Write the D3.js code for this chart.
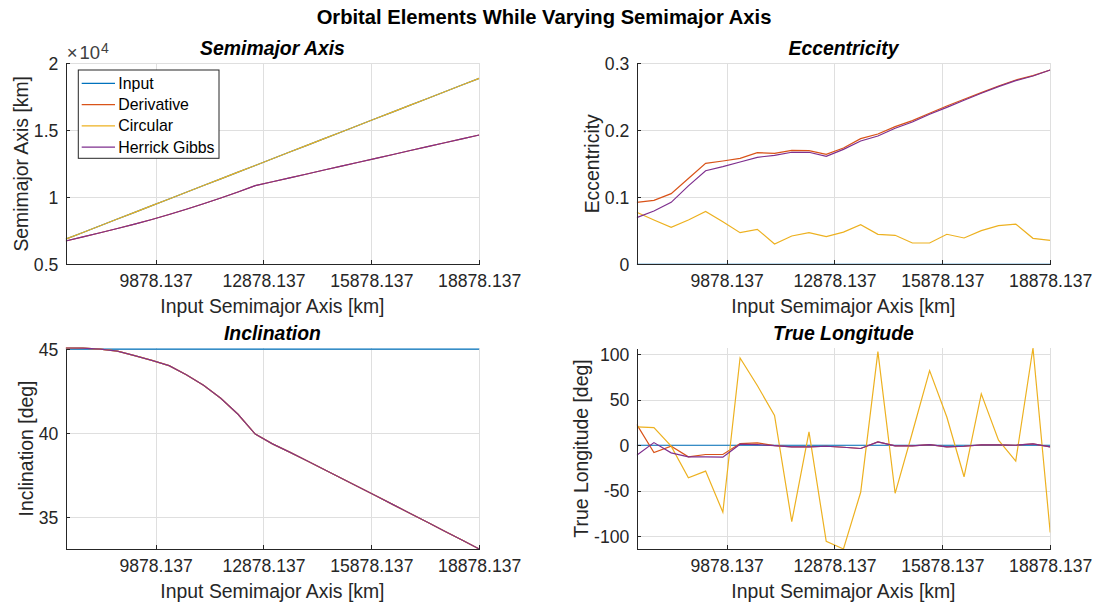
<!DOCTYPE html>
<html lang="en">
<head>
<meta charset="UTF-8">
<title>Orbital Elements While Varying Semimajor Axis</title>
<script src="https://d3js.org/d3.v7.min.js"></script>
<style>
body { margin: 0; background: #fff; }
svg { font-family: "Liberation Sans", Arial, sans-serif; }
.tick text { fill: #262626; font-size: 17.6px; }
.axis path, .axis line { stroke: #262626; shape-rendering: crispEdges; }
.grid line { stroke: #dfdfdf; shape-rendering: crispEdges; }
.grid path { stroke: none; }
.grid text { display: none; }
</style>
</head>
<body>
<script>
// input semimajor axis (x positions of the samples)
var inputA = [7378.137, 7857.304, 8336.470, 8815.637, 9294.804, 9773.970, 10253.137,
  10732.304, 11211.470, 11690.637, 12169.804, 12648.970, 13128.137, 13607.304,
  14086.470, 14565.637, 15044.804, 15523.970, 16003.137, 16482.304, 16961.470,
  17440.637, 17919.804, 18398.970, 18878.137];
var xTicks = [9878.137, 12878.137, 15878.137, 18878.137];

var seriesNames = ["Input", "Derivative", "Circular", "Herrick Gibbs"];
var seriesColors = ["#0072BD", "#D95319", "#EDB120", "#7E2F8E"];

// semimajor axis [km]
var smaInput = [6878, 7378, 7878, 8378, 8878, 9378, 9878, 10378, 10878, 11378, 11878,
  12378, 12878, 13378, 13878, 14378, 14878, 15378, 15878, 16378, 16878, 17378,
  17878, 18378, 18878];
var smaDeriv = [6740, 7045, 7355, 7670, 7995, 8345, 8720, 9110, 9520, 9945, 10395,
  10870, 11160, 11450, 11740, 12035, 12325, 12615, 12905, 13195, 13490, 13780,
  14070, 14360, 14650];
var smaCirc = smaInput.slice();
var smaHG = smaDeriv.slice();

// eccentricity
var eccInput = [0, 0, 0, 0, 0, 0, 0, 0, 0, 0, 0, 0, 0, 0, 0, 0, 0, 0, 0, 0, 0, 0, 0, 0, 0];
var eccDeriv = [0.0925, 0.0955, 0.1055, 0.128, 0.1507, 0.1542, 0.158, 0.1666, 0.1657,
  0.170, 0.1696, 0.164, 0.1736, 0.1875, 0.1945, 0.2055, 0.2144, 0.2254, 0.2363,
  0.2463, 0.2562, 0.2662, 0.2751, 0.2816, 0.290];
var eccCirc = [0.0776, 0.0661, 0.0552, 0.0661, 0.079, 0.0636, 0.0472, 0.0522, 0.0303,
  0.0422, 0.0472, 0.0412, 0.048, 0.0591, 0.0448, 0.0433, 0.0318, 0.0318, 0.0448,
  0.0393, 0.0502, 0.0576, 0.0601, 0.0388, 0.0358];
var eccHG = [0.0697, 0.0796, 0.0925, 0.117, 0.1397, 0.1457, 0.1527, 0.1597, 0.1627,
  0.1672, 0.1672, 0.1612, 0.1716, 0.184, 0.1915, 0.203, 0.2124, 0.2239, 0.2343,
  0.2448, 0.2552, 0.2652, 0.2741, 0.2811, 0.290];

// inclination [deg]
var incInput = [45, 45, 45, 45, 45, 45, 45, 45, 45, 45, 45, 45, 45, 45, 45, 45, 45, 45,
  45, 45, 45, 45, 45, 45, 45];
var incDeriv = [45.07, 45.06, 45.0, 44.88, 44.62, 44.33, 44.02, 43.48, 42.85, 42.08,
  41.13, 39.95, 39.37, 38.88, 38.37, 37.85, 37.33, 36.81, 36.29, 35.76, 35.23,
  34.71, 34.18, 33.65, 33.12];
var incCirc = incDeriv.slice();
var incHG = incDeriv.slice();

// true longitude [deg]
var tlInput = [0, 0, 0, 0, 0, 0, 0, 0, 0, 0, 0, 0, 0, 0, 0, 0, 0, 0, 0, 0, 0, 0, 0, 0, 0];
var tlDeriv = [23, -8, -1, -12.8, -10.2, -10.2, 1.8, 2.6, -0.4, -1.8, -1.8, -1.1, -2.2,
  -3.6, 3.6, -0.7, -0.7, 0.7, -1.8, -1.1, 0.4, 0.4, 0, 1.5, -1.8];
var tlCirc = [20.1, 19.3, -1, -35.8, -28.5, -73.7, 96, 65.7, 32.8, -84, 14.6, -105.8,
  -114.2, -51.8, 103, -52.9, 14, 82.1, 31, -34.7, 56.6, 5.5, -17.5, 107, -96];
var tlHG = [-11, 2.9, -8.4, -12.8, -12.8, -13.1, 1.1, 0.7, -0.4, -1.8, -1.8, -1.1, -2.2,
  -3.6, 3.6, -0.7, -0.7, 0.7, -1.8, -1.1, 0.4, 0.4, 0, 1.5, -1.8];

window.onload = function () {
  var W = 1098, H = 605;
  var svg = d3.select("body").append("svg").attr("width", W).attr("height", H);

  svg.append("text")
    .attr("x", 544).attr("y", 24)
    .attr("text-anchor", "middle")
    .style("font-size", "20.2px").style("font-weight", "bold").attr("fill", "#000")
    .text("Orbital Elements While Varying Semimajor Axis");

  var pw = 413.5, ph = 201;
  var panels = [
    { id: "p1", left: 65.7, top: 63.3, title: "Semimajor Axis", ylabel: "Semimajor Axis [km]",
      data: [smaInput, smaDeriv, smaCirc, smaHG], yDomain: [5000, 20000],
      yTicks: [5000, 10000, 15000, 20000], yFmt: function (d) { return d / 1e4; },
      exponent: true, legend: true },
    { id: "p2", left: 636.7, top: 63.3, title: "Eccentricity", ylabel: "Eccentricity",
      data: [eccInput, eccDeriv, eccCirc, eccHG], yDomain: [0, 0.3],
      yTicks: [0, 0.1, 0.2, 0.3], yFmt: function (d) { return d3.format("~g")(d); } },
    { id: "p3", left: 65.7, top: 348, title: "Inclination", ylabel: "Inclination [deg]",
      data: [incInput, incDeriv, incCirc, incHG], yDomain: null,
      yTicks: [35, 40, 45], yFmt: function (d) { return d; } },
    { id: "p4", left: 636.7, top: 348, title: "True Longitude", ylabel: "True Longitude [deg]",
      data: [tlInput, tlDeriv, tlCirc, tlHG], yDomain: null,
      yTicks: [-100, -50, 0, 50, 100], yFmt: function (d) { return d; } }
  ];

  panels.forEach(function (p) {
    var g = svg.append("g").attr("transform", "translate(" + p.left + "," + p.top + ")");

    var x = d3.scaleLinear().domain(d3.extent(inputA)).range([0, pw]);
    var yDom = p.yDomain || d3.extent(d3.merge(p.data));
    var y = d3.scaleLinear().domain(yDom).range([ph, 0]);

    // grid
    g.append("g").attr("class", "grid")
      .attr("transform", "translate(0," + ph + ")")
      .call(d3.axisBottom(x).tickValues(xTicks).tickSize(-ph).tickFormat(""));
    g.append("g").attr("class", "grid")
      .call(d3.axisLeft(y).tickValues(p.yTicks).tickSize(-pw).tickFormat(""));

    // data lines
    g.append("clipPath").attr("id", "clip-" + p.id)
      .append("rect").attr("x", 0).attr("y", -1).attr("width", pw).attr("height", ph + 2);
    var line = d3.line()
      .x(function (d, i) { return x(inputA[i]); })
      .y(function (d) { return y(d); });
    g.append("g").attr("clip-path", "url(#clip-" + p.id + ")")
      .selectAll("path")
      .data(p.data)
      .enter()
      .append("path")
      .attr("d", line)
      .attr("fill", "none")
      .attr("stroke", function (d, i) { return seriesColors[i]; })
      .attr("stroke-width", 1.2);

    // axes (ticks point inward, box off)
    g.append("g").attr("class", "axis")
      .attr("transform", "translate(0," + ph + ")")
      .call(d3.axisBottom(x).tickValues(xTicks).tickSizeInner(-4).tickSizeOuter(0)
        .tickPadding(10.5).tickFormat(d3.format(".3f")));
    var ya = g.append("g").attr("class", "axis")
      .call(d3.axisLeft(y).tickValues(p.yTicks).tickSizeInner(-4).tickSizeOuter(0)
        .tickPadding(7.4).tickFormat(p.yFmt));
    ya.selectAll(".tick text").attr("dy", "0.34em");

    var maxW = 0;
    ya.selectAll(".tick text").each(function () {
      maxW = Math.max(maxW, this.getComputedTextLength());
    });

    // labels
    g.append("text")
      .attr("x", pw / 2).attr("y", -8.3)
      .attr("text-anchor", "middle")
      .style("font-size", "19.4px").style("font-weight", "bold").style("font-style", "italic")
      .attr("fill", "#000")
      .text(p.title);

    g.append("text")
      .attr("x", pw / 2).attr("y", ph + 48.7)
      .attr("text-anchor", "middle")
      .style("font-size", "19.4px").attr("fill", "#262626")
      .text("Input Semimajor Axis [km]");

    var lx = -7.4 - maxW - 12.8;
    g.append("text")
      .attr("transform", "translate(" + lx + "," + (ph / 2) + ") rotate(-90)")
      .attr("text-anchor", "middle")
      .attr("dy", "0.35em")
      .style("font-size", "19.4px").attr("fill", "#262626")
      .text(p.ylabel);

    if (p.exponent) {
      var ex = g.append("text")
        .attr("x", 1).attr("y", -4)
        .style("font-size", "18.5px").attr("fill", "#404040");
      ex.append("tspan").text("\u00d7");
      ex.append("tspan").attr("dx", 2).text("10");
      ex.append("tspan").attr("dx", 1).attr("dy", -6).style("font-size", "14px").text("4");
    }

    if (p.legend) {
      var lg = g.append("g").attr("transform", "translate(12.6,6.7)");
      lg.append("rect")
        .attr("width", 140.7).attr("height", 88.3)
        .attr("fill", "#fff").attr("stroke", "#262626").attr("stroke-width", 1);
      var rows = lg.selectAll("g.row")
        .data(seriesNames)
        .enter()
        .append("g")
        .attr("class", "row")
        .attr("transform", function (d, i) { return "translate(0," + (13.3 + i * 21.3) + ")"; });
      rows.append("line")
        .attr("x1", 3.4).attr("x2", 36.7)
        .attr("stroke", function (d, i) { return seriesColors[i]; })
        .attr("stroke-width", 1.2);
      rows.append("text")
        .attr("x", 40).attr("dy", "0.35em")
        .style("font-size", "15.9px").attr("fill", "#000")
        .text(function (d) { return d; });
    }
  });
};
</script>
</body>
</html>
